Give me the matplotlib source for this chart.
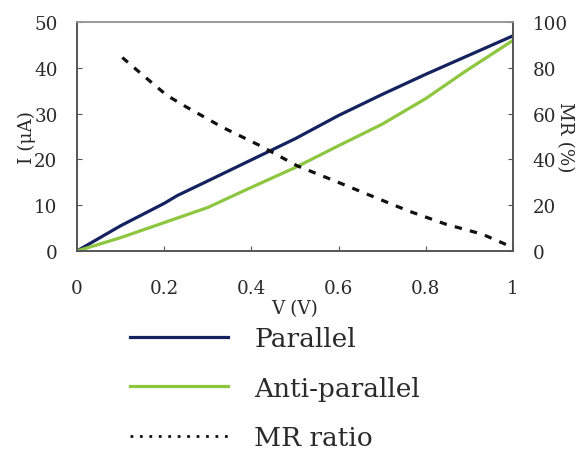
import matplotlib.pyplot as plt
from matplotlib.lines import Line2D

plt.rcParams['font.family'] = ['DejaVu Serif']
plt.rcParams['text.color'] = '#2a2a2a'
plt.rcParams['axes.labelcolor'] = '#2a2a2a'
plt.rcParams['xtick.color'] = '#555555'
plt.rcParams['ytick.color'] = '#555555'
plt.rcParams['xtick.labelcolor'] = '#2a2a2a'
plt.rcParams['ytick.labelcolor'] = '#2a2a2a'

# values
v_par = [0, 0.1, 0.2, 0.23, 0.3, 0.4, 0.5, 0.6, 0.7, 0.8, 0.9, 1.0]
i_par = [0, 5.5, 10.4, 12.1, 15.3, 19.9, 24.5, 29.6, 34.2, 38.6, 42.8, 47.0]

v_anti = [0, 0.1, 0.2, 0.3, 0.343, 0.4, 0.5, 0.6, 0.7, 0.8, 0.89, 1.0]
i_anti = [0, 2.9, 6.2, 9.5, 11.4, 13.9, 18.2, 23.0, 27.7, 33.3, 39.2, 46.0]

v_mr = [0.104, 0.15, 0.206, 0.25, 0.334, 0.42, 0.505, 0.59, 0.676, 0.76, 0.846, 0.93, 1.0]
mr = [84.5, 77, 68, 63, 54, 46, 37.2, 30.7, 24, 17.5, 11.7, 7.3, 1.5]

navy = '#152260'
green = '#8dc63f'

fig = plt.figure(figsize=(5.83, 4.52), dpi=100)
ax = fig.add_axes([0.132, 0.4425, 0.748, 0.5065])
ax2 = ax.twinx()

ax.plot(v_par, i_par, color=navy, lw=2.3)
ax.plot(v_anti, i_anti, color=green, lw=2.3)
ax2.plot(v_mr, mr, color='#111111', lw=2.3, linestyle=(0, (2.3, 2.6)))

ax.set_xlim(0, 1)
ax.set_ylim(0, 50)
ax2.set_ylim(0, 100)
ax.set_xticks([0, 0.2, 0.4, 0.6, 0.8, 1])
ax.set_xticklabels(['0', '0.2', '0.4', '0.6', '0.8', '1'])
ax.set_yticks(range(0, 51, 10))
ax2.set_yticks(range(0, 101, 20))

ax.tick_params(axis='x', direction='in', length=3.8, pad=20, labelsize=13.2)
ax.tick_params(axis='y', direction='in', length=3.8, pad=14, labelsize=13.2)
ax2.tick_params(axis='y', direction='in', length=3.8, pad=14, labelsize=13.2)

for a in (ax, ax2):
    for s in a.spines.values():
        s.set_color('#555555')
        s.set_linewidth(1.2)
    a.spines['top'].set_color('#999999')

ax.set_xlabel('V (V)', fontsize=13.2, labelpad=2)
ax.set_ylabel('I (μA)', fontsize=13.2)
ax.yaxis.set_label_coords(-0.095, 0.5)
ax2.set_ylabel('MR (%)', fontsize=13.2, rotation=270, va='center')
ax2.yaxis.set_label_coords(1.12, 0.5)

handles = [
    Line2D([], [], color=navy, lw=2.3),
    Line2D([], [], color=green, lw=2.3),
    Line2D([], [], color='#111111', lw=2.0, linestyle=(0, (1, 2.4))),
]
fig.legend(handles, ['Parallel', 'Anti-parallel', 'MR ratio'],
           loc='upper left', bbox_to_anchor=(0.223, 0.276),
           frameon=False, fontsize=19, handlelength=3.7,
           handletextpad=1.0, labelspacing=0.92, borderpad=0, borderaxespad=0)

fig.savefig('out.png', dpi=100)
